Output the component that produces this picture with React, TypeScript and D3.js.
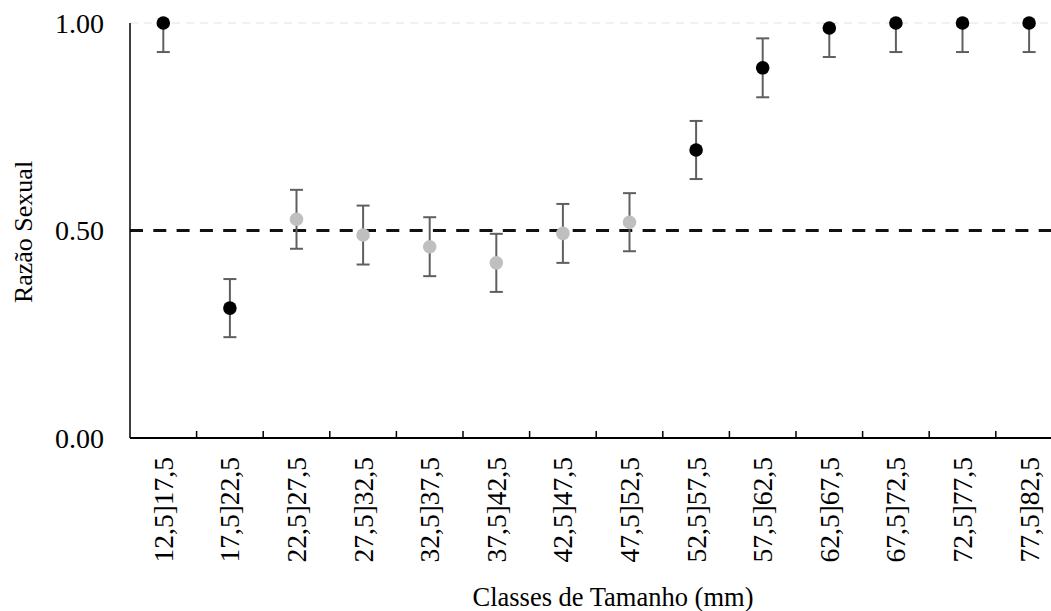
import React, { useRef, useEffect } from 'react';
import * as d3 from 'd3';

// Classes de tamanho (mm)
const categories = [
  '12,5]17,5', '17,5]22,5', '22,5]27,5', '27,5]32,5', '32,5]37,5', '37,5]42,5', '42,5]47,5',
  '47,5]52,5', '52,5]57,5', '57,5]62,5', '62,5]67,5', '67,5]72,5', '72,5]77,5', '77,5]82,5',
];
// razão sexual por classe
const ratios = [1.0, 0.313, 0.527, 0.489, 0.461, 0.422, 0.493, 0.52, 0.694, 0.892, 0.988, 1.0, 1.0, 1.0];
// erro (+/-)
const errors = [0.07, 0.07, 0.071, 0.071, 0.071, 0.07, 0.071, 0.07, 0.07, 0.071, 0.07, 0.07, 0.07, 0.07];
// diferente de 0.5 (preto) ou não (cinza)
const significant = [true, true, false, false, false, false, false, false, true, true, true, true, true, true];
const yTicks = [0, 0.5, 1];
const refLine = 0.5;

const App = () => {
  const svgRef = useRef<SVGSVGElement>(null);
  const width = 1051;
  const height = 611;

  useEffect(() => {
    const svg = d3.select(svgRef.current);
    svg.selectAll('*').remove();

    const left = 130, top = 23, bottom = 438;
    const x = d3.scaleBand().domain(categories).range([left, left + 66.6 * categories.length]);
    const y = d3.scaleLinear().domain([0, 1]).range([bottom, top]);
    const font = '"Liberation Serif", "Times New Roman", serif';

    // linha de grade leve em 1.00
    svg.append('line')
      .attr('x1', left).attr('x2', width)
      .attr('y1', y(1)).attr('y2', y(1))
      .attr('stroke', '#e3e3e3').attr('stroke-width', 1)
      .attr('stroke-dasharray', '8,6');

    // linha de referência 0.50
    svg.append('line')
      .attr('x1', left).attr('x2', width)
      .attr('y1', y(refLine)).attr('y2', y(refLine))
      .attr('stroke', '#111').attr('stroke-width', 3)
      .attr('stroke-dasharray', '13,10.3');

    // eixo Y
    svg.append('line')
      .attr('x1', left).attr('x2', left)
      .attr('y1', top).attr('y2', bottom)
      .attr('stroke', '#000').attr('stroke-width', 1.5);

    svg.selectAll('.ytick')
      .data(yTicks)
      .enter()
      .append('text')
      .attr('x', 104)
      .attr('y', d => y(d))
      .attr('text-anchor', 'end')
      .attr('dominant-baseline', 'central')
      .attr('font-family', font)
      .attr('font-size', 28)
      .attr('fill', '#000')
      .text(d => d.toFixed(2));

    // eixo X
    svg.append('line')
      .attr('x1', left).attr('x2', width)
      .attr('y1', bottom).attr('y2', bottom)
      .attr('stroke', '#000').attr('stroke-width', 2);

    svg.selectAll('.xtick')
      .data(categories.slice(1))
      .enter()
      .append('line')
      .attr('x1', d => x(d)!).attr('x2', d => x(d)!)
      .attr('y1', bottom).attr('y2', bottom - 7)
      .attr('stroke', '#000').attr('stroke-width', 1.5);

    svg.selectAll('.xlabel')
      .data(categories)
      .enter()
      .append('text')
      .attr('transform', d => `translate(${x(d)! + x.bandwidth() / 2}, 457) rotate(-90)`)
      .attr('text-anchor', 'end')
      .attr('dominant-baseline', 'central')
      .attr('font-family', font)
      .attr('font-size', 27.5)
      .attr('fill', '#000')
      .text(d => d);

    // barras de erro
    const points = categories.map((c, i) => ({ c, v: ratios[i], e: errors[i], s: significant[i] }));
    const cx = (d: any) => x(d.c)! + x.bandwidth() / 2;
    const capW = 6.5;

    const eb = svg.append('g').attr('stroke', '#5f5f5f').attr('stroke-width', 2);
    points.forEach(d => {
      const lo = y(Math.max(0, d.v - d.e));
      const hi = y(Math.min(1, d.v + d.e));
      eb.append('line').attr('x1', cx(d)).attr('x2', cx(d)).attr('y1', lo).attr('y2', hi);
      eb.append('line').attr('x1', cx(d) - capW).attr('x2', cx(d) + capW).attr('y1', lo).attr('y2', lo);
      if (d.v + d.e <= 1) {
        eb.append('line').attr('x1', cx(d) - capW).attr('x2', cx(d) + capW).attr('y1', hi).attr('y2', hi);
      }
    });

    // pontos
    svg.selectAll('.pt')
      .data(points)
      .enter()
      .append('circle')
      .attr('cx', cx)
      .attr('cy', d => y(d.v))
      .attr('r', 6.8)
      .attr('fill', d => (d.s ? '#000' : '#bfbfbf'));

    // títulos dos eixos
    svg.append('text')
      .attr('transform', `translate(23, 232) rotate(-90)`)
      .attr('text-anchor', 'middle')
      .attr('dominant-baseline', 'central')
      .attr('font-family', font)
      .attr('font-size', 26)
      .attr('fill', '#000')
      .text('Razão Sexual');

    svg.append('text')
      .attr('x', 613)
      .attr('y', 606)
      .attr('text-anchor', 'middle')
      .attr('font-family', font)
      .attr('font-size', 26.5)
      .attr('fill', '#000')
      .text('Classes de Tamanho (mm)');
  }, []);

  return (
    <svg
      ref={svgRef}
      width={width}
      height={height}
      style={{ position: 'absolute', left: 0, top: 0, background: '#fff' }}
    ></svg>
  );
};

export default App;
